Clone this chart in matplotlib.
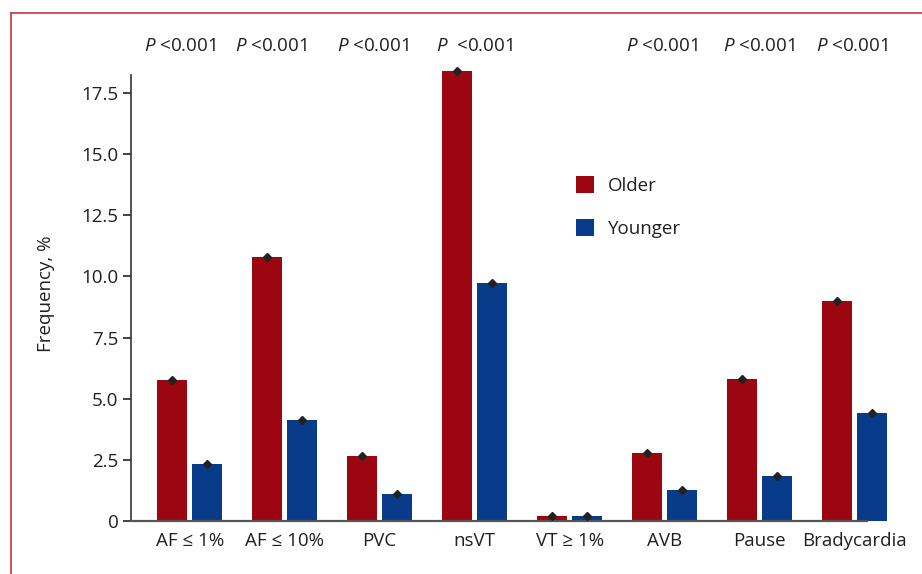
import matplotlib
matplotlib.use("Agg")
import matplotlib.pyplot as plt
from matplotlib.lines import Line2D
import numpy as np

categories = ["AF ≤ 1%", "AF ≤ 10%", "PVC", "nsVT", "VT ≥ 1%", "AVB", "Pause", "Bradycardia"]
older = [5.75, 10.8, 2.65, 18.4, 0.2, 2.8, 5.8, 9.0]
younger = [2.35, 4.15, 1.1, 9.75, 0.2, 1.25, 1.85, 4.4]
p_labels = ["$P$ <0.001", "$P$ <0.001", "$P$ <0.001", "$P$  <0.001", "", "$P$ <0.001", "$P$ <0.001", "$P$ <0.001"]
yticks = [0, 2.5, 5.0, 7.5, 10.0, 12.5, 15.0, 17.5]
ytick_labels = ["0", "2.5", "5.0", "7.5", "10.0", "12.5", "15.0", "17.5"]

RED = "#9c0610"
BLUE = "#083c8a"
TXT = "#231f20"
FS = 13.5

plt.rcParams['font.family'] = ['Open Sans', 'DejaVu Sans']
plt.rcParams['mathtext.fontset'] = 'custom'
plt.rcParams['mathtext.it'] = 'Open Sans:italic'

fig = plt.figure(figsize=(9.22, 5.74), dpi=100)
ax = fig.add_axes([0.1421, 0.0923, 0.836, 0.7924])

x = np.arange(len(categories))
w = 0.316
off = 0.184
ax.bar(x - off, older, width=w, color=RED, label="Older", zorder=2)
b2 = ax.bar(x + off, younger, width=w, color=BLUE, label="Younger", zorder=2)
for bar in b2:
    bar.set_clip_on(False)
ax.plot(x - off, older, linestyle="none", marker="D", markersize=4.5, color="#222222", zorder=3, clip_on=False)
ax.plot(x + off, younger, linestyle="none", marker="D", markersize=4.5, color="#222222", zorder=3, clip_on=False)

ax.set_xlim(-0.62, 7.5)
ax.set_ylim(0, 18.6)
ax.set_yticks(yticks)
ax.set_yticklabels(ytick_labels)
ax.set_xticks(x)
ax.set_xticklabels(categories)
ax.tick_params(axis="x", length=0, pad=8, labelsize=FS, colors=TXT)
ax.tick_params(axis="y", length=6, width=1.2, pad=3, labelsize=FS, colors=TXT)
for s in ["top", "right"]:
    ax.spines[s].set_visible(False)
ax.spines["left"].set_bounds(0, 18.25)
ax.spines["bottom"].set_bounds(-0.62, 7.13)
ax.spines["left"].set_color("#333333")
ax.spines["bottom"].set_color("#555555")
ax.spines["left"].set_linewidth(1.2)
ax.spines["bottom"].set_linewidth(1.6)
ax.set_ylabel("Frequency, %", fontsize=FS, color=TXT, labelpad=19)

p_offsets = [-0.1, -0.15, -0.07, 0.0, 0.0, -0.03, 0.0, -0.02]
for i, lab in enumerate(p_labels):
    if lab:
        ax.text(x[i] + p_offsets[i], 1.0 + 20 / (0.7924 * 574), lab, transform=ax.get_xaxis_transform(),
                ha="center", va="center", fontsize=FS, color=TXT)

leg = ax.legend(loc="upper left", bbox_to_anchor=(0.555, 0.795), frameon=False, fontsize=FS,
                handlelength=1.0, handleheight=1.0, labelspacing=1.3, handletextpad=0.7)
for t in leg.get_texts():
    t.set_color(TXT)

frame_col = "#c0393f"
fig.add_artist(Line2D([10.5 / 922, 1.0], [1 - 13 / 574, 1 - 13 / 574], transform=fig.transFigure, color=frame_col, lw=1.2))
fig.add_artist(Line2D([10.5 / 922, 10.5 / 922], [0, 1 - 13 / 574], transform=fig.transFigure, color=frame_col, lw=1.2))

fig.savefig("out.png", dpi=100)
